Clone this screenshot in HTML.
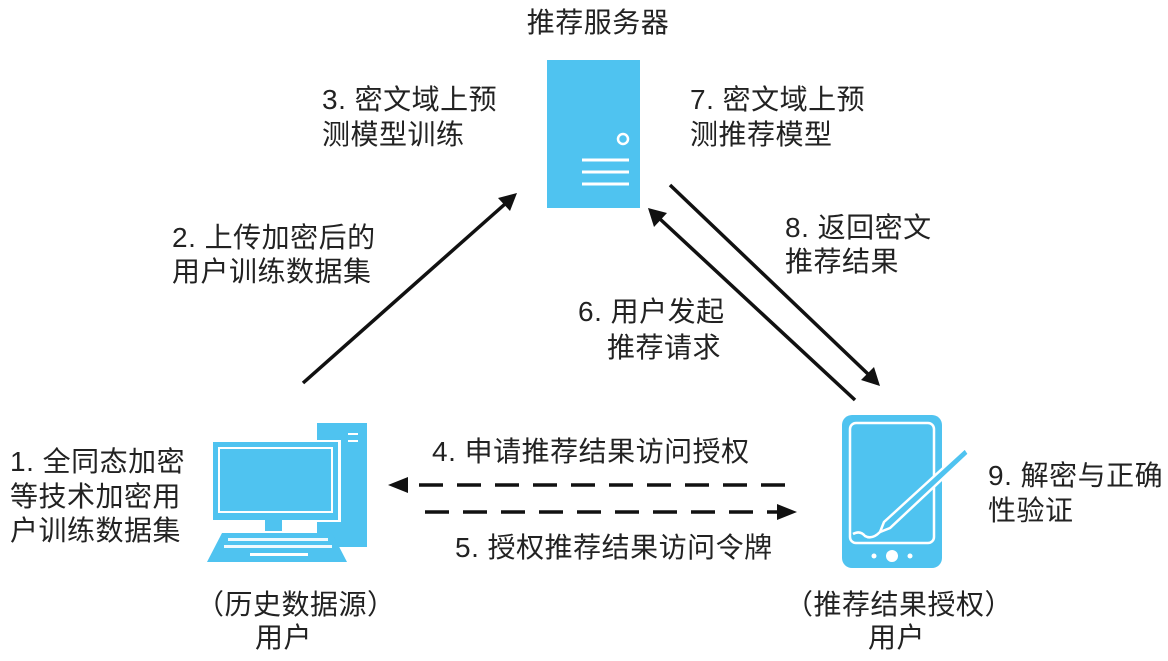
<!DOCTYPE html>
<html><head><meta charset="utf-8"><style>
body{margin:0;background:#fff;}
svg text{font-family:"Liberation Sans","Noto Sans CJK SC",sans-serif;font-size:28px;fill:#222;letter-spacing:0.5px;}
</style></head><body>
<svg width="1168" height="656" viewBox="0 0 1168 656" xmlns="http://www.w3.org/2000/svg">
<!-- server -->
<rect x="547" y="60" width="93" height="148" fill="#4fc3f0"/>
<circle cx="623" cy="139" r="5" fill="none" stroke="#fff" stroke-width="2.5"/>
<g stroke="#fff" stroke-width="3"><line x1="582" y1="160" x2="629" y2="160"/><line x1="582" y1="172" x2="629" y2="172"/><line x1="582" y1="184" x2="629" y2="184"/></g>
<!-- computer -->
<rect x="317" y="423" width="50" height="124" fill="#4fc3f0"/>
<g stroke="#fff" stroke-width="2"><line x1="348" y1="434" x2="358" y2="434"/><line x1="348" y1="441" x2="358" y2="441"/></g>
<rect x="211" y="440" width="130" height="82" fill="#fff"/>
<rect x="213" y="442" width="125" height="78" fill="#4fc3f0"/>
<rect x="219" y="448" width="113" height="64" fill="#4fc3f0" stroke="#fff" stroke-width="2"/>
<rect x="265" y="520" width="17" height="11" fill="#4fc3f0"/>
<polygon points="222,533 332,533 347,562 207,562" fill="#4fc3f0"/>
<g fill="#fff">
<rect x="228" y="538" width="100" height="3" opacity="0.9"/>
<rect x="224" y="545" width="108" height="3" opacity="0.9"/>
<rect x="250" y="553" width="58" height="3"/>
</g>
<!-- phone -->
<rect x="842" y="415" width="100" height="153" rx="10" fill="#4fc3f0"/>
<rect x="850" y="423" width="84" height="120" rx="6" fill="none" stroke="#fff" stroke-width="2.5"/>
<circle cx="892" cy="556" r="6" fill="#fff"/><circle cx="874" cy="556" r="2.5" fill="#fff"/><circle cx="910" cy="556" r="2.5" fill="#fff"/>
<path d="M965 448 L884 522 L880 532 L890 528 L969 454 Z" fill="#4fc3f0" stroke="#fff" stroke-width="2.5"/>
<path d="M853 534 Q860 530 865 536 Q872 540 880 532" fill="none" stroke="#fff" stroke-width="2.5"/>
<!-- arrows -->
<g stroke="#111" stroke-width="3.5" fill="none">
<line x1="303" y1="383" x2="505" y2="204"/>
<line x1="855" y1="400" x2="660" y2="219"/>
<line x1="670" y1="185" x2="868" y2="374"/>
<line x1="785" y1="485" x2="405" y2="485" stroke-dasharray="24,14"/>
<line x1="425" y1="512" x2="780" y2="512" stroke-dasharray="24,14"/>
</g>
<g fill="#111">
<polygon points="517,193 498,198 510,211"/>
<polygon points="648,208 654,227 667,213"/>
<polygon points="880,386 861,380 874,367"/>
<polygon points="388,485 408,477 408,493"/>
<polygon points="797,512 777,504 777,520"/>
</g>
<!-- labels -->
<text x="598" y="32" text-anchor="middle">推荐服务器</text>
<text x="322" y="109">3. 密文域上预</text>
<text x="322" y="144">测模型训练</text>
<text x="690" y="109">7. 密文域上预</text>
<text x="690" y="144">测推荐模型</text>
<text x="172" y="247">2. 上传加密后的</text>
<text x="172" y="281">用户训练数据集</text>
<text x="785" y="237">8. 返回密文</text>
<text x="785" y="271">推荐结果</text>
<text x="578" y="321">6. 用户发起</text>
<text x="607" y="357">推荐请求</text>
<text x="10" y="471">1. 全同态加密</text>
<text x="10" y="506">等技术加密用</text>
<text x="10" y="540">户训练数据集</text>
<text x="432" y="461">4. 申请推荐结果访问授权</text>
<text x="455" y="557">5. 授权推荐结果访问令牌</text>
<text x="988" y="485">9. 解密与正确</text>
<text x="988" y="520">性验证</text>
<text x="196" y="614">（历史数据源）</text>
<text x="255" y="647">用户</text>
<text x="785" y="614">（推荐结果授权）</text>
<text x="868" y="647">用户</text>
</svg>
</body></html>
